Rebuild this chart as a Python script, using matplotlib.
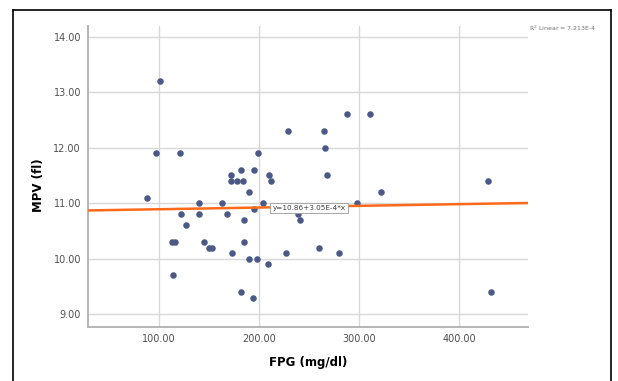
import matplotlib.pyplot as plt
from matplotlib.lines import Line2D

# FPG (mg/dl) vs MPV (fl)
fpg = [101, 97, 121, 88, 140, 163, 122, 140, 168, 127,
       113, 116, 145, 150, 153, 173, 114, 172, 172, 178,
       184, 182, 195, 199, 190, 210, 212, 204, 195, 185,
       185, 190, 198, 209, 182, 194, 229, 265, 266, 268,
       288, 311, 239, 241, 298, 322, 227, 260, 280, 429, 432]
mpv = [13.2, 11.9, 11.9, 11.1, 11.0, 11.0, 10.8, 10.8, 10.8, 10.6,
       10.3, 10.3, 10.3, 10.2, 10.2, 10.1, 9.7, 11.5, 11.4, 11.4,
       11.4, 11.6, 11.6, 11.9, 11.2, 11.5, 11.4, 11.0, 10.9, 10.7,
       10.3, 10.0, 10.0, 9.9, 9.4, 9.3, 12.3, 12.3, 12.0, 11.5,
       12.6, 12.6, 10.8, 10.7, 11.0, 11.2, 10.1, 10.2, 10.1, 11.4, 9.4]

# reta de ajuste (linear)
intercepto = 10.86
inclinacao = 3.05e-4
r2_texto = "R$^2$ Linear = 7.213E-4"
eq_texto = "y=10.86+3.05E-4*x"

xticks = [100, 200, 300, 400]
yticks = [9, 10, 11, 12, 13, 14]

fig = plt.figure(figsize=(6.18, 3.81), dpi=100)
ax = fig.add_axes([88 / 618, 1 - 327 / 381, 440 / 618, 301 / 381])

xlim = (29, 469)
ax.set_xlim(*xlim)
ax.set_ylim(8.77, 14.19)

ax.scatter(fpg, mpv, s=22, color='#4b5986', zorder=3, linewidths=0)
ax.plot(xlim, [intercepto + inclinacao * v for v in xlim],
        color='#ff6a1a', lw=1.8, zorder=4)

ax.text(213.5, 10.91, eq_texto, fontsize=5.2, color='#404040',
        ha='left', va='center', zorder=5,
        bbox=dict(boxstyle='square,pad=0.3', facecolor='white',
                  edgecolor='#9a9a9a', lw=0.6))

ax.set_xticks(xticks)
ax.set_yticks(yticks)
ax.set_xticklabels([f"{v:.2f}" for v in xticks])
ax.set_yticklabels([f"{v:.2f}" for v in yticks])
ax.tick_params(length=0, labelsize=7, labelcolor='#505050', pad=5)
ax.grid(True, color='#d8d8d8', lw=1.0)
ax.set_axisbelow(True)

for s in ['top', 'right']:
    ax.spines[s].set_visible(False)
for s in ['left', 'bottom']:
    ax.spines[s].set_color('#b4b4b4')
    ax.spines[s].set_linewidth(1.4)

ax.set_xlabel('FPG (mg/dl)', fontsize=8.5, fontweight='bold', labelpad=9)
ax.set_ylabel('MPV (fl)', fontsize=8.5, fontweight='bold')
ax.yaxis.set_label_coords(-0.098, 0.47)

fig.text(529 / 618, 1 - 28 / 381, r2_texto, fontsize=4.5, color='#707070',
         ha='left', va='center')

# moldura preta
for xs, ys in [([13 / 618, 13 / 618], [0, 1 - 10 / 381]),
               ([13 / 618, 611 / 618], [1 - 10 / 381, 1 - 10 / 381]),
               ([611 / 618, 611 / 618], [0, 1 - 10 / 381])]:
    fig.add_artist(Line2D(xs, ys, color='black', lw=1.2))

fig.savefig('out.png', dpi=100)
